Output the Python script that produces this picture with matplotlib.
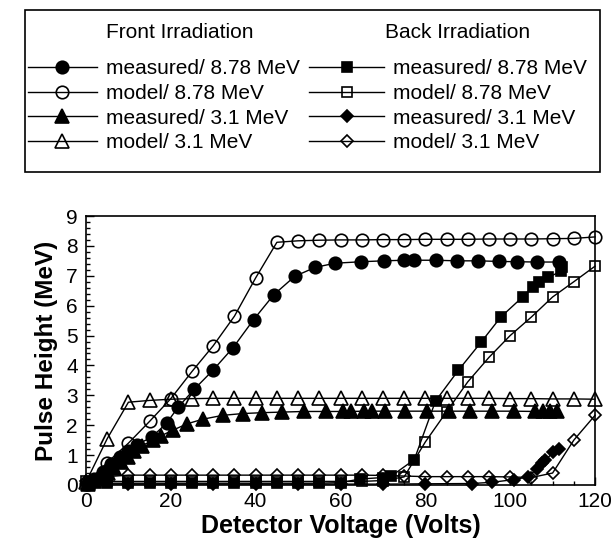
import matplotlib
matplotlib.use("Agg")
import matplotlib.pyplot as plt
from matplotlib.patches import Rectangle
from matplotlib.ticker import MultipleLocator

plt.rcParams['font.family'] = ['Liberation Sans', 'DejaVu Sans']

# ---------------- data ----------------
# Front irradiation, measured 8.78 MeV (filled circles)
front_meas_878_x = [0.5, 2, 4, 6, 8, 10, 12, 15.5, 19, 21.7, 25.5, 30, 34.7, 39.5, 44.3,
                    49.2, 54, 58.7, 64.9, 70.2, 74.9, 77.4, 82.4, 87.5, 92.5, 97.3,
                    101.6, 106.3, 111.5]
front_meas_878_y = [0.05, 0.2, 0.45, 0.7, 0.95, 1.15, 1.35, 1.6, 2.07, 2.6, 3.2, 3.85, 4.6,
                    5.53, 6.37, 6.98, 7.28, 7.42, 7.47, 7.5, 7.52, 7.52, 7.52, 7.5, 7.5,
                    7.48, 7.47, 7.46, 7.46]

# Front irradiation, model 8.78 MeV (open circles)
front_model_878_x = [0, 5, 10, 15, 20, 25, 30, 35, 40, 45, 50, 55, 60, 65, 70, 75, 80,
                     85, 90, 95, 100, 105, 110, 115, 120]
front_model_878_y = [0.05, 0.75, 1.4, 2.13, 2.89, 3.8, 4.66, 5.65, 6.93, 8.12, 8.17, 8.19,
                     8.2, 8.2, 8.21, 8.21, 8.22, 8.22, 8.22, 8.23, 8.23, 8.23, 8.24, 8.25, 8.3]

# Front irradiation, measured 3.1 MeV (filled triangles)
front_meas_31_x = [0.5, 2, 3.5, 5.1, 6.7, 8.2, 9.8, 11.4, 13.3, 15.7, 17.6, 20.4, 23.9,
                   27.5, 32.2, 36.9, 41.6, 46.3, 51.4, 56.5, 60.6, 62.4, 65.5, 67.5, 70.4,
                   75.3, 80.4, 85.5, 90.6, 95.7, 100.8, 105.9, 107.8, 109.4, 111]
front_meas_31_y = [0.05, 0.15, 0.25, 0.39, 0.58, 0.77, 0.95, 1.14, 1.32, 1.5, 1.64, 1.83,
                   2.05, 2.2, 2.33, 2.39, 2.42, 2.44, 2.46, 2.46, 2.46, 2.46, 2.47, 2.47,
                   2.47, 2.47, 2.47, 2.47, 2.47, 2.47, 2.47, 2.46, 2.46, 2.46, 2.46]

# Front irradiation, model 3.1 MeV (open triangles)
front_model_31_x = [0, 5, 10, 15, 20, 25, 30, 35, 40, 45, 50, 55, 60, 65, 70, 75, 80, 85,
                    90, 95, 100, 105, 110, 115, 120]
front_model_31_y = [0.1, 1.55, 2.77, 2.83, 2.87, 2.89, 2.9, 2.9, 2.9, 2.9, 2.9, 2.9, 2.9,
                    2.9, 2.9, 2.9, 2.9, 2.9, 2.9, 2.9, 2.89, 2.89, 2.88, 2.88, 2.87]

# Back irradiation, measured 8.78 MeV (filled squares)
back_meas_878_x = [1, 5, 10, 15, 20, 25, 30, 35, 40, 45, 50, 55, 60, 64.6, 70, 72, 77.4,
                   82.4, 87.8, 93.1, 97.8, 103, 105.3, 106.8, 109, 112, 112.3]
back_meas_878_y = [0.05, 0.06, 0.06, 0.06, 0.06, 0.06, 0.06, 0.06, 0.06, 0.06, 0.06, 0.06,
                   0.08, 0.2, 0.25, 0.3, 0.85, 2.81, 3.84, 4.77, 5.62, 6.3, 6.64, 6.78,
                   6.95, 7.15, 7.3]

# Back irradiation, model 8.78 MeV (open squares)
back_model_878_x = [0, 5, 10, 15, 20, 25, 30, 35, 40, 45, 50, 55, 60, 65, 70, 75, 80, 85,
                    90, 95, 100, 105, 110, 115, 120]
back_model_878_y = [0.12, 0.12, 0.12, 0.12, 0.12, 0.12, 0.12, 0.12, 0.12, 0.12, 0.12, 0.12,
                    0.12, 0.12, 0.15, 0.27, 1.44, 2.45, 3.45, 4.27, 5.0, 5.62, 6.29, 6.8, 7.32]

# Back irradiation, measured 3.1 MeV (filled diamonds)
back_meas_31_x = [1, 10, 20, 30, 40, 50, 60, 70, 80, 91, 95.7, 100.8, 104.3, 106.3, 107.5,
                  108.2, 110.2, 111.5]
back_meas_31_y = [0.03, 0.03, 0.03, 0.03, 0.03, 0.03, 0.03, 0.03, 0.04, 0.05, 0.09, 0.18,
                  0.27, 0.55, 0.73, 0.82, 1.1, 1.2]

# Back irradiation, model 3.1 MeV (open diamonds)
back_model_31_x = [0, 5, 10, 15, 20, 25, 30, 35, 40, 45, 50, 55, 60, 65, 70, 75, 80, 85,
                   90, 95, 100, 105, 110, 115, 120]
back_model_31_y = [0.15, 0.28, 0.33, 0.33, 0.33, 0.33, 0.33, 0.33, 0.33, 0.33, 0.33, 0.33,
                   0.33, 0.33, 0.32, 0.3, 0.28, 0.28, 0.28, 0.28, 0.27, 0.25, 0.4, 1.5, 2.33]

legend_labels = ["measured/ 8.78 MeV", "model/ 8.78 MeV", "measured/ 3.1 MeV", "model/ 3.1 MeV"]
legend_titles = ["Front Irradiation", "Back Irradiation"]
x_label = "Detector Voltage (Volts)"
y_label = "Pulse Height (MeV)"

# ---------------- figure ----------------
W, H = 611, 544
fig = plt.figure(figsize=(W / 100, H / 100), dpi=100)
ax = fig.add_axes([86 / W, 1 - 485 / H, (595 - 86) / W, (485 - 216) / H])

lw = 1.0
styles = [
    (front_meas_878_x, front_meas_878_y, 'o', 'k', 9.0),
    (front_model_878_x, front_model_878_y, 'o', 'none', 9.0),
    (front_meas_31_x, front_meas_31_y, '^', 'k', 9.5),
    (front_model_31_x, front_model_31_y, '^', 'none', 9.5),
    (back_meas_878_x, back_meas_878_y, 's', 'k', 7.5),
    (back_model_878_x, back_model_878_y, 's', 'none', 7.5),
    (back_meas_31_x, back_meas_31_y, 'D', 'k', 6.5),
    (back_model_31_x, back_model_31_y, 'D', 'none', 6.5),
]
handles = []
for xs, ys, m, fc, ms in styles:
    h, = ax.plot(xs, ys, color='k', lw=lw, marker=m, markersize=ms,
                 markerfacecolor=fc, markeredgecolor='k', markeredgewidth=1.2,
                 clip_on=False)
    handles.append(h)

ax.set_xlim(0, 120)
ax.set_ylim(0, 9)
ax.xaxis.set_major_locator(MultipleLocator(20))
ax.xaxis.set_minor_locator(MultipleLocator(5))
ax.yaxis.set_major_locator(MultipleLocator(1))
ax.yaxis.set_minor_locator(MultipleLocator(0.2))
ax.tick_params(which='both', direction='in', labelsize=15, width=1.0)
ax.tick_params(which='major', length=6)
ax.tick_params(which='minor', length=3)
ax.tick_params(axis='x', pad=5)
ax.tick_params(axis='y', pad=6)
for s in ax.spines.values():
    s.set_linewidth(1.2)

ax.set_xlabel(x_label, fontsize=18, fontweight='bold', labelpad=2)
ax.set_ylabel(y_label, fontsize=17.5, fontweight='bold', labelpad=6)

# ---------------- legend ----------------
fig.patches.append(Rectangle((25 / W, 1 - 172 / H), (600 - 25) / W, (172 - 10) / H,
                             transform=fig.transFigure, fill=False, edgecolor='k',
                             linewidth=1.2))
fig.text(180 / W, 1 - 33 / H, legend_titles[0], fontsize=15, ha='center', va='center')
fig.text(458 / W, 1 - 33 / H, legend_titles[1], fontsize=15, ha='center', va='center')

leg_kw = dict(loc='upper left', frameon=False, fontsize=15,
              handletextpad=0.45, labelspacing=0.28, numpoints=1,
              borderaxespad=0, borderpad=0)
leg1 = fig.legend(handles[:4], legend_labels, bbox_to_anchor=(28 / W, 1 - 59 / H),
                  handlelength=3.3, **leg_kw)
leg2 = fig.legend(handles[4:], legend_labels, bbox_to_anchor=(309 / W, 1 - 59 / H),
                  handlelength=3.6, **leg_kw)

fig.savefig("out.png", dpi=100)
